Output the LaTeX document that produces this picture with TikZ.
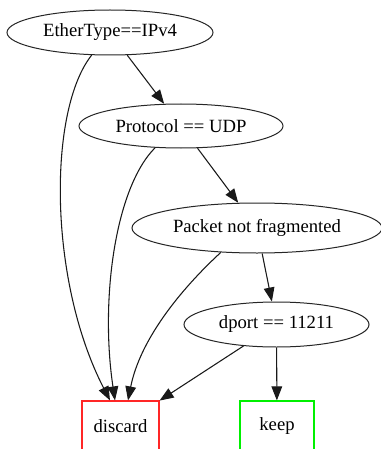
\documentclass[tikz,border=0pt]{standalone}
\usepackage{fontspec}
\setmainfont{Liberation Serif}
\usetikzlibrary{shapes.geometric,arrows.meta,calc}

\tikzset{
  test/.style={draw=black!85, line width=0.75pt, ellipse, inner sep=0pt,
               font=\fontsize{14}{16}\selectfont},
  leaf/.style={draw, line width=0.9pt, rectangle, inner sep=0pt,
               font=\fontsize{14}{16}\selectfont},
  edge/.style={draw=black!90, line width=0.8pt,
               -{Triangle[length=10.5pt,width=8pt]}},
}

\begin{document}
\begin{tikzpicture}[x=0.75pt,y=-0.75pt]
  \useasboundingbox (0,0) rectangle (381,449);
  \fill[white] (0,0) rectangle (381,449);

  % decision tests
  \node[test, minimum width=154.5pt, minimum height=33.75pt] (eth)    at (110,32.5) {EtherType==IPv4};
  \node[test, minimum width=153pt,   minimum height=33pt]    (proto)  at (181,126)  {Protocol == UDP};
  \node[test, minimum width=187.5pt, minimum height=37.5pt]  (frag)   at (257,228)  {Packet not fragmented};
  \node[test, minimum width=138.75pt,minimum height=33.75pt] (dport)  at (276.5,324.5) {dport == 11211};

  % outcomes
  \node[leaf, draw=red!85, minimum width=57.75pt, minimum height=37.5pt] (discard) at (120.5,426) {discard};
  \node[leaf, draw=green!90!black!60!green, minimum width=55.5pt, minimum height=37.5pt] (keep) at (277,426) {keep};

  % accepted branches
  \draw[edge] (eth) -- (proto);
  \draw[edge] (proto) -- (frag);
  \draw[edge] (frag) -- (dport);
  \draw[edge] (dport) -- (keep);

  % rejected branches
  \draw[edge] (eth.231) .. controls (48,110) and (48,280) .. ($(discard.north)+(-10.5,0)$);
  \draw[edge] (proto.220) .. controls (115,188) and (100,300) .. ($(discard.north)+(-5.5,0)$);
  \draw[edge] (frag.214) .. controls (180,290) and (140,340) .. ($(discard.north)+(7.5,0)$);
  \draw[edge] (dport) -- (discard);
\end{tikzpicture}
\end{document}
